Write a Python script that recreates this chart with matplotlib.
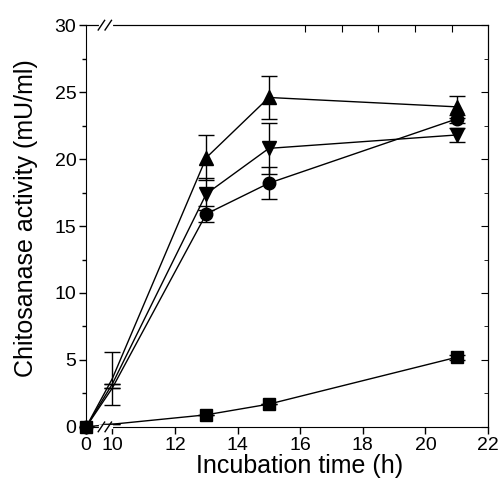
import numpy as np
import matplotlib.pyplot as plt

plt.rcParams['font.family'] = ['Liberation Sans', 'DejaVu Sans']

# incubation time (h) and chitosanase activity (mU/ml)
hours = [0, 10, 13, 15, 21]
tri_up = [0, 3.6, 20.1, 24.6, 23.9]
tri_up_err = [0, 2.0, 1.7, 1.6, 0.8]
tri_down = [0, 3.2, 17.4, 20.8, 21.8]
tri_down_err = [0, 0, 1.2, 1.9, 0.5]
circle = [0, 2.9, 15.9, 18.2, 23.0]
circle_err = [0, 0, 0.6, 1.2, 0.3]
square = [0, 0.2, 0.9, 1.7, 5.2]
square_err = [0, 0, 0, 0, 0.2]

xticks = [0, 10, 12, 14, 16, 18, 20, 22]
yticks = [0, 5, 10, 15, 20, 25, 30]

# squeeze the 0-10 h part of the axis
k = 0.0835
def fwd(x):
    x = np.asarray(x, dtype=float)
    return np.where(x >= 10, x, 10 - (10 - x) * k)
def inv(y):
    y = np.asarray(y, dtype=float)
    return np.where(y >= 10, y, 10 - (10 - y) / k)

fig = plt.figure(figsize=(4.98, 4.84), dpi=100)
ax = fig.add_axes([0.173, 0.118, 0.807, 0.830])
ax.set_xscale('function', functions=(fwd, inv))

series = [
    (circle, circle_err, 'o', 9, [0, 2, 3, 4]),
    (tri_down, tri_down_err, 'v', 10, [2, 3, 4]),
    (tri_up, tri_up_err, '^', 10, [2, 3, 4]),
    (square, square_err, 's', 8, [0, 2, 3, 4]),
]
for vals, err, m, ms, me in series:
    ax.plot(hours, vals, color='black', lw=1, marker=m, ms=ms,
            markevery=me, zorder=3, clip_on=False)
    ax.errorbar(hours, vals, yerr=err, fmt='none', ecolor='black',
                elinewidth=1, capsize=6, capthick=1, zorder=2)

ax.set_xlim(0, 22)
ax.set_ylim(0, 30)
ax.set_xticks(xticks)
ax.set_xticklabels([str(t) for t in xticks])
ax.set_yticks(yticks)
ax.set_yticks(np.arange(2.5, 30, 5), minor=True)
ax.tick_params(axis='both', which='major', direction='out', length=5,
               width=1, labelsize=14, pad=2)
ax.tick_params(axis='y', which='minor', direction='out', length=3, width=1)
ax.tick_params(axis='x', which='minor', bottom=False, top=False)

# mirrored ticks on top / right pointing inward
sec_x = ax.secondary_xaxis('top')
sec_x.set_xticks([12, 14, 16, 18, 20])
sec_x.tick_params(direction='in', length=5, labeltop=False)
sec_y = ax.secondary_yaxis('right')
sec_y.set_yticks(yticks)
sec_y.set_yticks(np.arange(2.5, 30, 5), minor=True)
sec_y.tick_params(direction='in', length=5, labelright=False)
sec_y.tick_params(which='minor', direction='in', length=3)

ax.set_xlabel('Incubation time (h)', fontsize=18, labelpad=0, x=0.53)
ax.set_ylabel('Chitosanase activity (mU/ml)', fontsize=18, labelpad=12, y=0.52)

# axis break marks
for yb in (0, 1):
    ax.plot([0.036, 0.062], [yb, yb], transform=ax.transAxes, color='white',
            lw=3, clip_on=False, zorder=5)
    for xb in (0.038, 0.055):
        ax.plot([xb - 0.008, xb + 0.008], [yb - 0.012, yb + 0.012],
                transform=ax.transAxes, color='black', lw=1, clip_on=False,
                zorder=6)

fig.savefig('out.png', dpi=100)
